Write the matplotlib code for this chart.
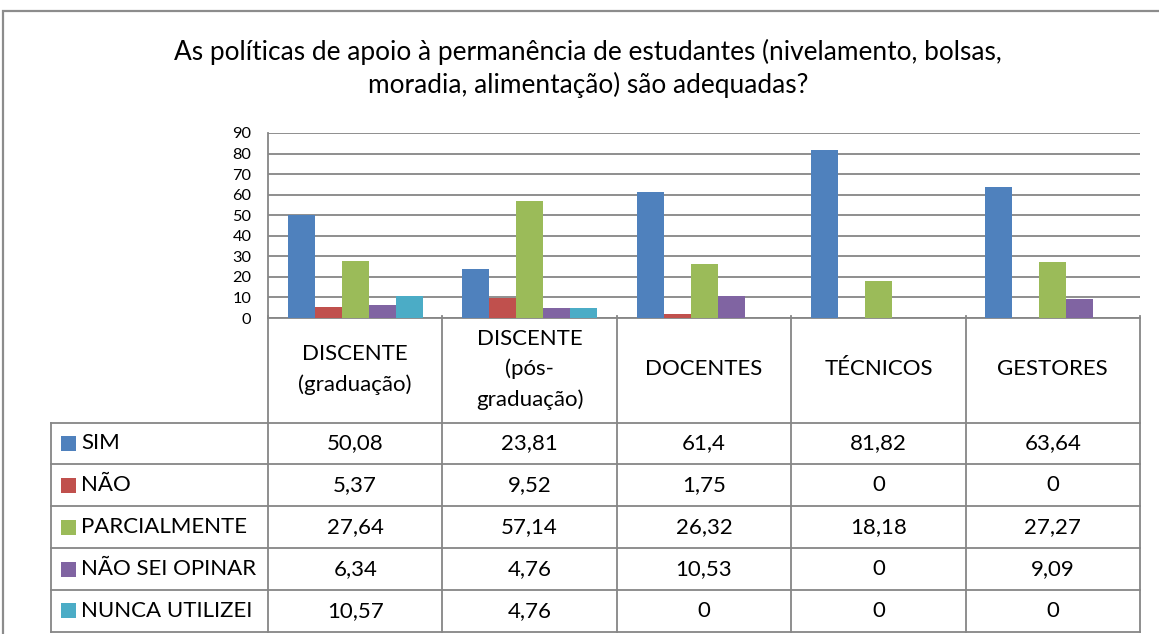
import matplotlib
matplotlib.use("Agg")
import matplotlib.pyplot as plt
from matplotlib.patches import Rectangle
import numpy as np

plt.rcParams['font.family'] = ['Lato', 'DejaVu Sans']

title = "As políticas de apoio à permanência de estudantes (nivelamento, bolsas,\nmoradia, alimentação) são adequadas?"
categories = ["DISCENTE\n(graduação)", "DISCENTE\n(pós-\ngraduação)", "DOCENTES", "TÉCNICOS", "GESTORES"]
series_names = ["SIM", "NÃO", "PARCIALMENTE", "NÃO SEI OPINAR", "NUNCA UTILIZEI"]
sim = [50.08, 23.81, 61.4, 81.82, 63.64]
nao = [5.37, 9.52, 1.75, 0, 0]
parcialmente = [27.64, 57.14, 26.32, 18.18, 27.27]
nao_sei = [6.34, 4.76, 10.53, 0, 9.09]
nunca = [10.57, 4.76, 0, 0, 0]
yticks = [0, 10, 20, 30, 40, 50, 60, 70, 80, 90]
colors = ["#4F81BD", "#C0504D", "#9BBB59", "#8064A2", "#4BACC6"]

series = [sim, nao, parcialmente, nao_sei, nunca]

W, H = 1159, 634
fig = plt.figure(figsize=(W / 100, H / 100), dpi=100)
grid_c = "#868686"

# outer frame
fig.patches.append(Rectangle((3 / W, -0.1), 1.2, (H - 11) / H + 0.1, transform=fig.transFigure,
                             fill=False, edgecolor="#8c8c8c", linewidth=1.6))

fig.text(588 / W, 1 - 68.5 / H, title, ha="center", va="center", fontsize=18.9,
         linespacing=1.3)

# bar axes
x0, x1, ytop, ybot = 268, 1140, 133, 318
ax = fig.add_axes([x0 / W, (H - ybot) / H, (x1 - x0) / W, (ybot - ytop) / H])
x = np.arange(len(categories))
bw = 27 / ((x1 - x0) / len(categories))
for i, (vals, c) in enumerate(zip(series, colors)):
    ax.bar(x + (i - 2) * bw, vals, width=bw, color=c, edgecolor="none", zorder=3)
ax.set_xlim(-0.5, len(categories) - 0.5)
ax.set_ylim(0, 90)
ax.set_yticks(yticks)
ax.set_yticklabels([str(t) for t in yticks], fontsize=11.8)
ax.tick_params(axis="y", length=0, pad=12)
ax.tick_params(axis="x", length=0, labelbottom=False)
ax.yaxis.grid(True, color=grid_c, linewidth=1.3, zorder=0)
for s in ["top", "right"]:
    ax.spines[s].set_visible(False)
for s in ["left", "bottom"]:
    ax.spines[s].set_color(grid_c)
    ax.spines[s].set_linewidth(1.3)

# data table axes
ppu = (x1 - x0) / len(categories)
tl = 51
xl = -0.5 - (x0 - tl) / ppu
tax = fig.add_axes([tl / W, 0, (x1 - tl) / W, ybot / H])
tax.set_xlim(xl, len(categories) - 0.5)
tax.set_ylim(H, ybot)
tax.axis("off")

row_edges = [424, 465, 507, 549, 590, 632]
lw = 1.3
for ry in row_edges:
    tax.plot([xl, len(categories) - 0.5], [ry, ry], color=grid_c, lw=lw, clip_on=False)
for cx in np.arange(len(categories) + 1) - 0.5:
    tax.plot([cx, cx], [ybot, row_edges[-1]], color=grid_c, lw=lw, clip_on=False)
tax.plot([xl, xl], [row_edges[0], row_edges[-1]], color=grid_c, lw=lw, clip_on=False)

fs = 16
for i, cat in enumerate(categories):
    tax.text(i, (ybot + row_edges[0]) / 2, cat, ha="center", va="center", fontsize=fs,
             linespacing=1.6)

def fmt(v):
    return f"{v:g}".replace(".", ",")

for r, (name, vals, c) in enumerate(zip(series_names, series, colors)):
    yc = (row_edges[r] + row_edges[r + 1]) / 2
    tax.add_patch(Rectangle((xl + 10 / ppu, yc - 7.5), 15 / ppu, 15, facecolor=c,
                            edgecolor="none", clip_on=False))
    tax.text(xl + 30 / ppu, yc, name, ha="left", va="center", fontsize=fs)
    for i, v in enumerate(vals):
        tax.text(i, yc, fmt(v), ha="center", va="center", fontsize=fs)

fig.savefig("out.png", dpi=100)
